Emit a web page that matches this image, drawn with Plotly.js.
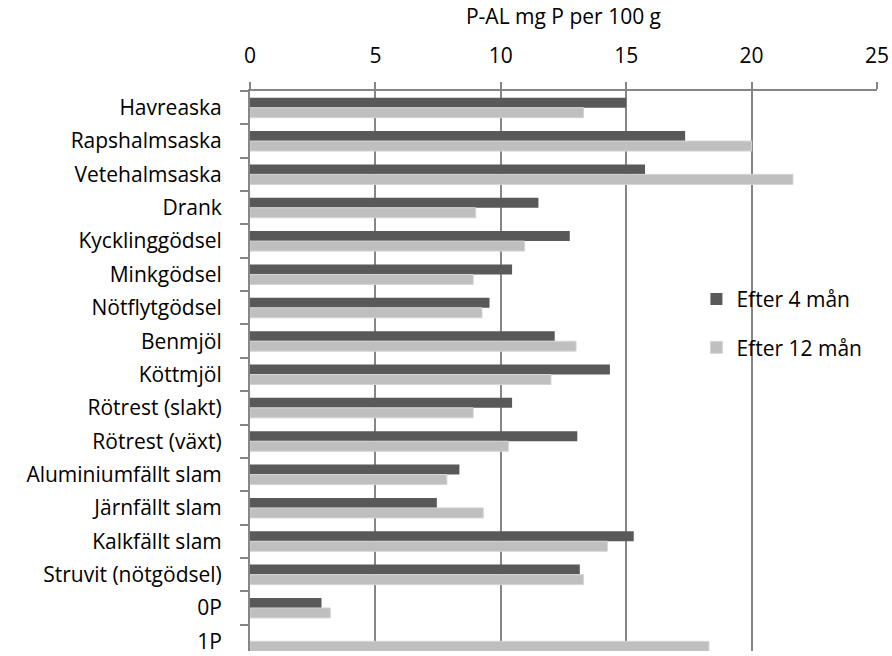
<!DOCTYPE html>
<html>
<head>
<meta charset="utf-8">
<script src="https://cdn.plot.ly/plotly-3.0.1.min.js"></script>
<style>html,body{margin:0;padding:0;background:#fff;}#chart{width:892px;height:656px;}</style>
</head>
<body>
<div id="chart"></div>
<script>
const categories = ["Havreaska","Rapshalmsaska","Vetehalmsaska","Drank","Kycklinggödsel","Minkgödsel","Nötflytgödsel","Benmjöl","Köttmjöl","Rötrest (slakt)","Rötrest (växt)","Aluminiumfällt slam","Järnfällt slam","Kalkfällt slam","Struvit (nötgödsel)","0P","1P"];
const after4 = [15.0,17.35,15.75,11.5,12.75,10.45,9.55,12.15,14.35,10.45,13.05,8.35,7.45,15.3,13.15,2.85,null];
const after12 = [13.3,20.0,21.65,9.0,10.95,8.9,9.25,13.0,12.0,8.9,10.3,7.85,9.3,14.25,13.3,3.2,18.3];
const seriesNames = ["Efter 4 mån","Efter 12 mån"];
const xTicks = [0,5,10,15,20,25];

const font = "'Open Sans', sans-serif";
const data = [
  {type:"bar", orientation:"h", name:seriesNames[0], y:categories, x:after4,
   marker:{color:"#595959", line:{width:0}}, legendgroup:"a", hoverinfo:"x+y"},
  {type:"bar", orientation:"h", name:seriesNames[1], y:categories, x:after12,
   marker:{color:"#bfbfbf", line:{width:1, color:"#d4d4d4"}}, legendgroup:"b", hoverinfo:"x+y"}
];
const layout = {
  width:892, height:656,
  margin:{l:250, r:15, t:91, b:5, pad:0},
  paper_bgcolor:"#fff", plot_bgcolor:"#fff",
  font:{family:font, size:21, color:"#000"},
  barmode:"group", bargap:0.4, bargroupgap:0,
  showlegend:true,
  legend:{x:0.712, y:0.585, xanchor:"left", yanchor:"middle", bgcolor:"rgba(0,0,0,0)",
          font:{family:font, size:21, color:"#000"}, traceorder:"grouped", tracegroupgap:18,
          itemwidth:30},
  xaxis:{side:"top", range:[0,25], tickvals:xTicks, ticktext:xTicks.map(String),
         showgrid:true, gridcolor:"#868686", gridwidth:2,
         showline:true, linecolor:"#868686", linewidth:2, mirror:false,
         ticks:"outside", ticklen:7, tickwidth:2, tickcolor:"#868686",
         ticklabelstandoff:11, zeroline:false,
         title:{text:"P-AL mg P per 100 g", font:{family:font, size:21, color:"#000"}, standoff:10},
         fixedrange:true},
  yaxis:{type:"category", range:[16.29,-0.5], autorange:false,
         showgrid:false, showline:true, linecolor:"#868686", linewidth:2,
         ticks:"outside", tickson:"boundaries", ticklen:8, tickwidth:2, tickcolor:"#868686",
         ticklabelstandoff:22, zeroline:false, fixedrange:true}
};
Plotly.newPlot("chart", data, layout, {displayModeBar:false, staticPlot:true});
</script>
</body>
</html>
